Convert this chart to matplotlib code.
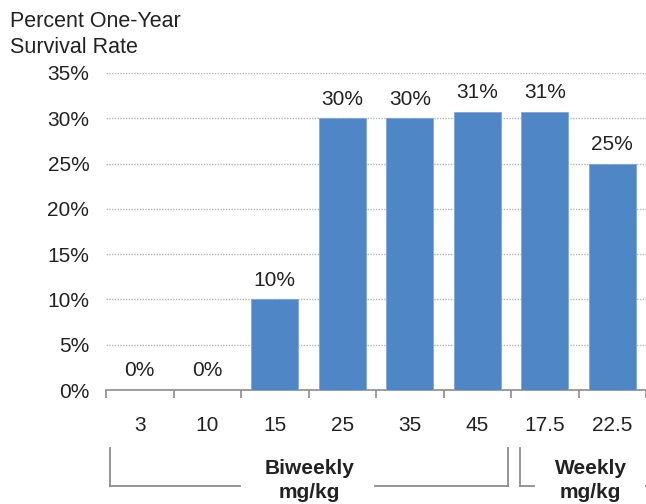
import matplotlib
matplotlib.use("Agg")
import matplotlib.pyplot as plt
from matplotlib.lines import Line2D
from matplotlib.transforms import blended_transform_factory
from matplotlib.ticker import FixedLocator, PercentFormatter

plt.rcParams['font.family'] = ['Liberation Sans', 'DejaVu Sans']

doses = ["3", "10", "15", "25", "35", "45", "17.5", "22.5"]
survival = [0, 0, 10, 30, 30, 30.7, 30.7, 25]
groups = ["Biweekly\nmg/kg", "Weekly\nmg/kg"]
y_ticks = [0, 5, 10, 15, 20, 25, 30, 35]

W, H = 646, 504
FS = 15
TXT = "#222222"
fig = plt.figure(figsize=(W / 100, H / 100), dpi=100)
ax = fig.add_axes([106 / W, 114 / H, 540 / W, 317 / H])

bar_color = "#4f86c6"
x = list(range(len(doses)))
bars = ax.bar(x, survival, width=0.7, color=bar_color,
              edgecolor="#7ea7d8", linewidth=0.6, zorder=3)

for b, v in zip(bars, survival):
    ax.annotate(f"{v:.0f}%", (b.get_x() + b.get_width() / 2, v),
                xytext=(0, 7), textcoords="offset points",
                ha="center", va="bottom", fontsize=FS, color=TXT)

ax.set_xlim(-0.5, len(doses) - 0.5)
ax.set_ylim(0, 35)

# y axis: percent labels, dotted grid, no spine
ax.set_yticks(y_ticks)
ax.yaxis.set_major_formatter(PercentFormatter(decimals=0))
ax.tick_params(axis="y", length=0, pad=12, labelsize=FS, labelcolor=TXT)
for t in y_ticks[1:]:
    ax.axhline(t, color="#b5b5b5", linewidth=1.0, linestyle=(0, (1, 1)), zorder=1)

for s in ("left", "right", "top"):
    ax.spines[s].set_visible(False)
ax.spines["bottom"].set_color("#8c8c8c")
ax.spines["bottom"].set_linewidth(1.2)

# x axis: labels at centers, tick marks at category boundaries
ax.set_xticks(x)
ax.set_xticklabels(doses)
ax.tick_params(axis="x", which="major", length=0, pad=19, labelsize=FS,
               labelcolor=TXT)
ax.xaxis.set_minor_locator(FixedLocator([i - 0.5 for i in range(len(doses) + 1)]))
ax.tick_params(axis="x", which="minor", length=6, width=1.2, color="#8c8c8c",
               direction="out")

# y-axis title in the top-left corner
fig.text(10 / W, 1 - 11 / H, "Percent One-Year\nSurvival Rate", ha="left", va="top",
         fontsize=15.5, color=TXT, linespacing=1.3)

# group brackets under the dose labels
tr = blended_transform_factory(ax.transData, fig.transFigure)
y_top = 1 - 448 / H
y_bot = 1 - 486 / H
lc = "#8c8c8c"


def seg(x0, x1, y0, y1):
    fig.add_artist(Line2D([x0, x1], [y0, y1], transform=tr, color=lc,
                          linewidth=1.3, clip_on=False))


# Biweekly: doses 3-45
bl, br = -0.44, 5.46
seg(bl, bl, y_top, y_bot)
seg(br, br, y_top, y_bot)
seg(bl, 1.48, y_bot, y_bot)
seg(3.48, br, y_bot, y_bot)
fig.text(2.51, 1 - 459 / H, groups[0], transform=tr, ha="center", va="top",
         fontsize=FS, fontweight="bold", color=TXT, linespacing=1.3)

# Weekly: doses 17.5-22.5
wl = 5.64
seg(wl, wl, y_top, y_bot)
seg(wl, 5.84, y_bot, y_bot)
seg(7.5, 7.8, y_bot, y_bot)
fig.text(6.68, 1 - 459 / H, groups[1], transform=tr, ha="center", va="top",
         fontsize=FS, fontweight="bold", color=TXT, linespacing=1.3)

fig.savefig("out.png", dpi=100, facecolor="white")
